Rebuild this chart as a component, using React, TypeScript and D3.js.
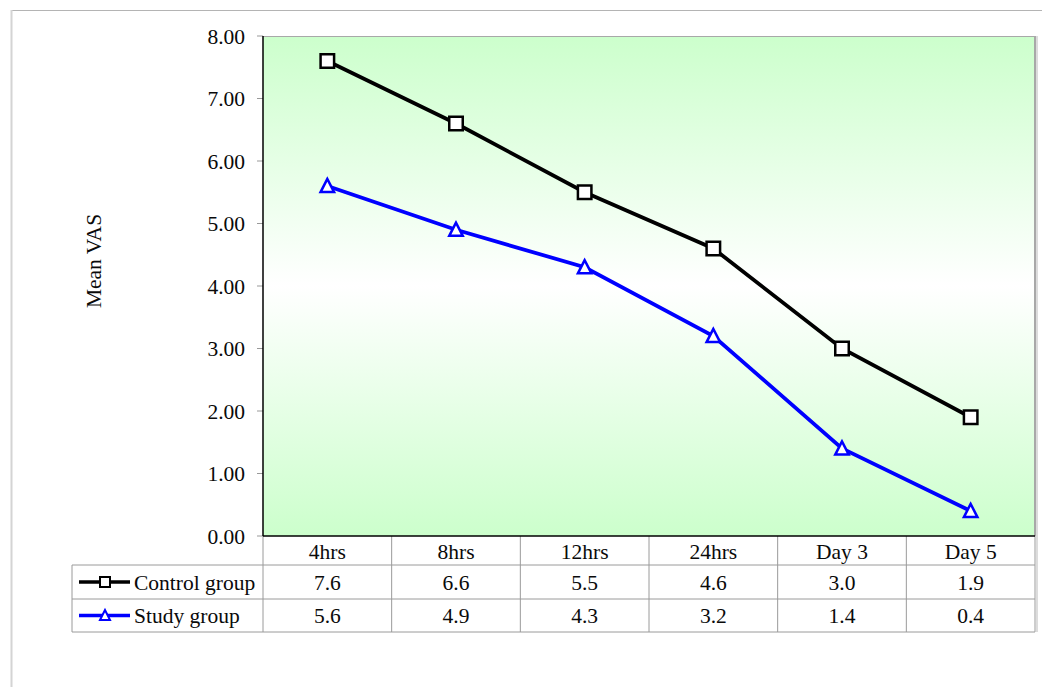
import React from "react";
import * as d3 from "d3";

const categories = ["4hrs", "8hrs", "12hrs", "24hrs", "Day 3", "Day 5"];
const controlValues = [7.6, 6.6, 5.5, 4.6, 3.0, 1.9];
const studyValues = [5.6, 4.9, 4.3, 3.2, 1.4, 0.4];
const yTicks = [0, 1, 2, 3, 4, 5, 6, 7, 8];

const W = 1042;
const H = 687;
const plot = { left: 263, top: 36, right: 1035, bottom: 536 };
const rows = { header: 565, r1: 599, r2: 632 };
const tableLeft = 72;
const font = "'Liberation Serif', 'Times New Roman', serif";
const fs = 21.5;
const ink = "#0a0a0a";

const series = [
  { name: "Control group", values: controlValues, color: "#000000", marker: "square" },
  { name: "Study group", values: studyValues, color: "#0000ff", marker: "triangle" },
];

function Marker({ kind, x, y, color, size, sw }: { kind: string; x: number; y: number; color: string; size: number; sw: number }) {
  if (kind === "square") {
    return (
      <rect x={x - size / 2} y={y - size / 2} width={size} height={size} fill="#fff" stroke={color} strokeWidth={sw} />
    );
  }
  const h = size * 0.9;
  const pts = `${x},${y - h / 2 - 1} ${x - size / 2},${y + h / 2} ${x + size / 2},${y + h / 2}`;
  return <polygon points={pts} fill="#fff" stroke={color} strokeWidth={sw} />;
}

export default function App() {
  const x = d3.scaleBand<string>().domain(categories).range([plot.left, plot.right]).padding(0);
  const y = d3.scaleLinear().domain([0, 8]).range([plot.bottom, plot.top]);
  const cx = (c: string) => (x(c) as number) + x.bandwidth() / 2;
  const line = d3
    .line<number>()
    .x((_, i) => cx(categories[i]))
    .y((d) => y(d));

  const boundaries = categories.map((c) => x(c) as number).concat([plot.right]);
  const rowMid = [(rows.header + rows.r1) / 2, (rows.r1 + rows.r2) / 2];
  const grid = "#9a9a9a";

  return (
    <svg
      width={W}
      height={H}
      style={{ position: "absolute", left: 0, top: 0, background: "#fff" }}
      fontFamily={font}
    >
      <defs>
        <linearGradient id="plotBg" x1="0" y1="0" x2="0" y2="1">
          <stop offset="0" stopColor="#ccffcc" />
          <stop offset="0.5" stopColor="#ffffff" />
          <stop offset="1" stopColor="#ccffcc" />
        </linearGradient>
      </defs>

      {/* outer chart frame */}
      <line x1={11} y1={10.5} x2={W} y2={10.5} stroke="#b4b4b4" strokeWidth={1} />
      <line x1={11.5} y1={10} x2={11.5} y2={H} stroke="#d4d4d4" strokeWidth={2} />

      {/* plot area */}
      <rect
        x={plot.left}
        y={plot.top}
        width={plot.right - plot.left}
        height={plot.bottom - plot.top}
        fill="url(#plotBg)"
      />
      <line x1={plot.left} y1={plot.top + 0.5} x2={plot.right} y2={plot.top + 0.5} stroke="#a8a8a8" />
      <line x1={plot.right} y1={plot.top} x2={plot.right} y2={plot.bottom} stroke="#a8a8a8" strokeWidth={2} />
      <line x1={plot.right + 2} y1={plot.top} x2={plot.right + 2} y2={rows.r2} stroke="#dcdcdc" strokeWidth={2} />

      {/* y ticks and labels */}
      {yTicks.map((t) => (
        <g key={t}>
          <line x1={plot.left - 6} x2={plot.left} y1={y(t)} y2={y(t)} stroke="#999" />
          <text x={245} y={y(t)} dy="0.35em" textAnchor="end" fontSize={fs} fill={ink}>
            {t.toFixed(2)}
          </text>
        </g>
      ))}
      <text
        transform={`translate(101,${(plot.top + plot.bottom) / 2 - 25}) rotate(-90)`}
        textAnchor="middle"
        fontSize={fs}
        fill={ink}
      >
        Mean VAS
      </text>

      {/* data table */}
      {boundaries.map((b, i) => (
        <line key={i} x1={b} x2={b} y1={plot.bottom} y2={rows.r2} stroke={grid} />
      ))}
      <line x1={tableLeft} x2={plot.right} y1={rows.header} y2={rows.header} stroke={grid} />
      <line x1={tableLeft} x2={plot.right} y1={rows.r1} y2={rows.r1} stroke={grid} />
      <line x1={tableLeft} x2={plot.right} y1={rows.r2} y2={rows.r2} stroke={grid} />
      <line x1={tableLeft} x2={tableLeft} y1={rows.header} y2={rows.r2} stroke={grid} />

      {categories.map((c) => (
        <text key={c} x={cx(c)} y={(plot.bottom + rows.header) / 2 + 1} dy="0.35em" textAnchor="middle" fontSize={fs} fill={ink}>
          {c}
        </text>
      ))}

      {series.map((s, si) => (
        <g key={s.name}>
          <line x1={79} x2={130} y1={rowMid[si]} y2={rowMid[si]} stroke={s.color} strokeWidth={3.5} />
          <Marker kind={s.marker} x={105} y={rowMid[si]} color={s.color} size={10} sw={2} />
          <text x={134} y={rowMid[si]} dy="0.35em" fontSize={fs} fill={ink}>
            {s.name}
          </text>
          {s.values.map((v, i) => (
            <text key={i} x={cx(categories[i])} y={rowMid[si]} dy="0.35em" textAnchor="middle" fontSize={fs} fill={ink}>
              {v.toFixed(1)}
            </text>
          ))}
        </g>
      ))}

      {/* axes */}
      <line x1={plot.left} x2={plot.left} y1={plot.top} y2={plot.bottom} stroke="#000" strokeWidth={1.5} />
      <line x1={plot.left} x2={plot.right} y1={plot.bottom} y2={plot.bottom} stroke="#000" strokeWidth={1.5} />

      {/* series lines and markers */}
      {series.map((s) => (
        <g key={s.name}>
          <path d={line(s.values) || ""} fill="none" stroke={s.color} strokeWidth={3.8} />
          {s.values.map((v, i) => (
            <Marker key={i} kind={s.marker} x={cx(categories[i])} y={y(v)} color={s.color} size={13.5} sw={2.5} />
          ))}
        </g>
      ))}
    </svg>
  );
}
